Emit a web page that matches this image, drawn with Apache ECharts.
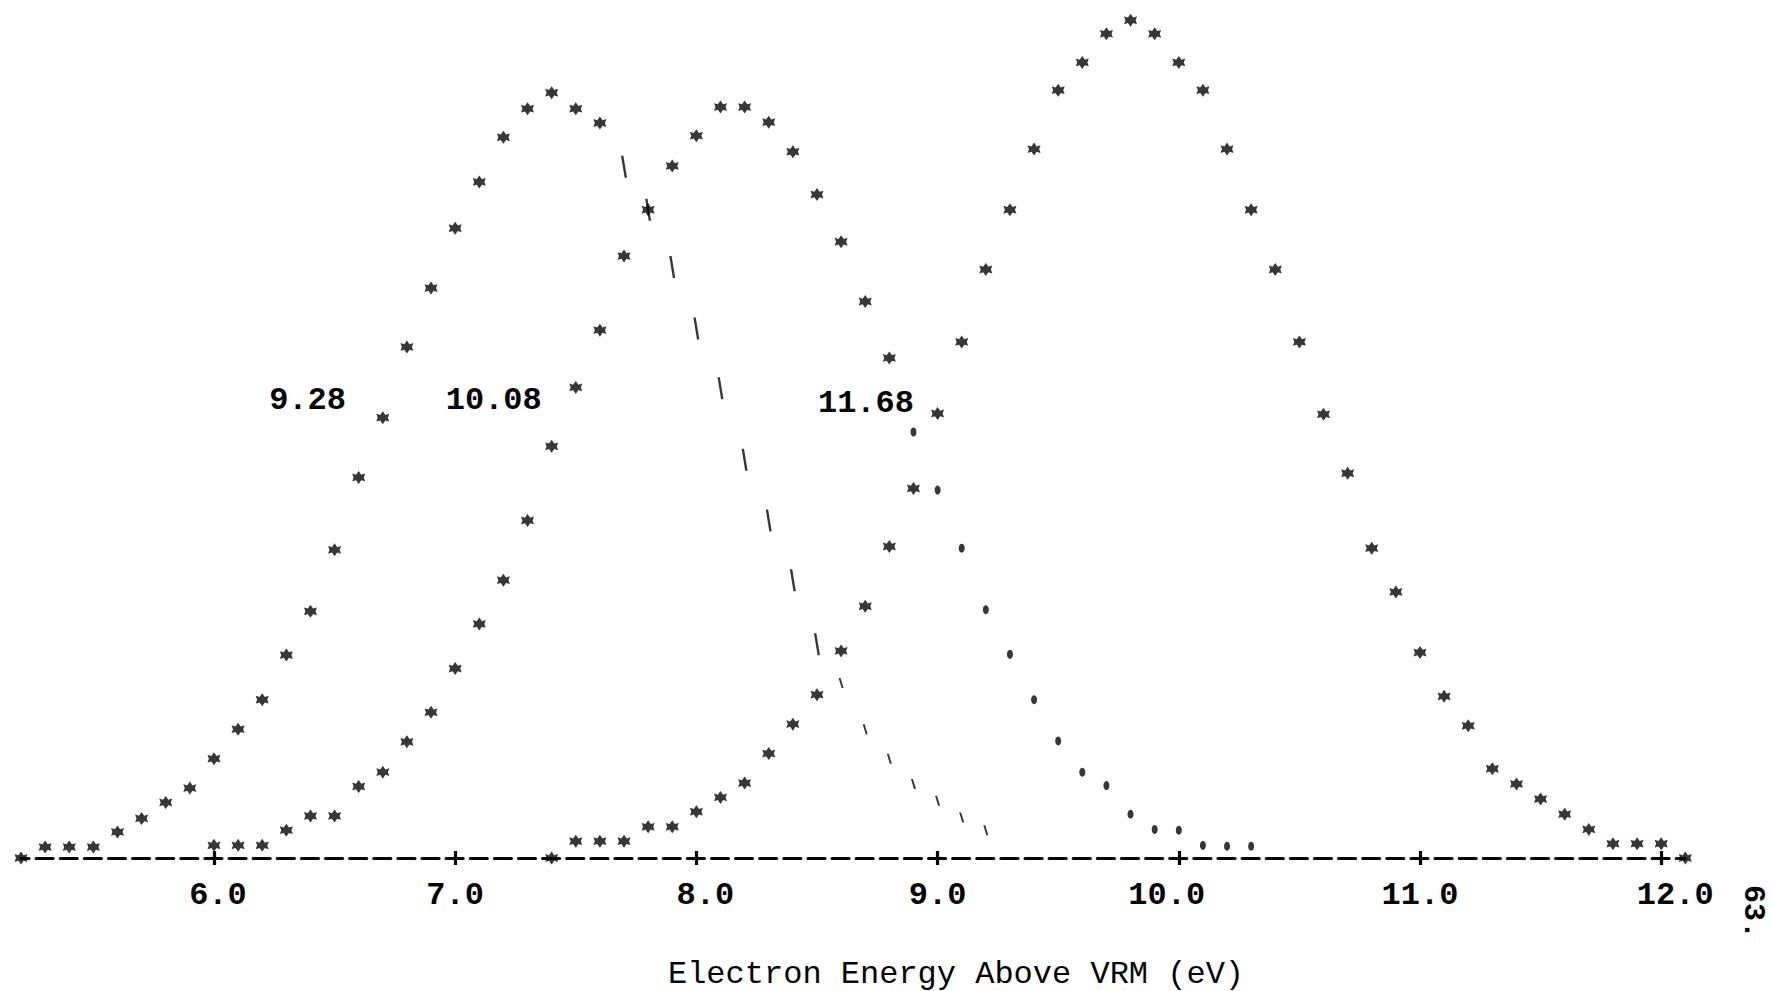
<!DOCTYPE html>
<html>
<head>
<meta charset="utf-8">
<script src="https://cdn.jsdelivr.net/npm/echarts@6/dist/echarts.min.js"></script>
<style>
  html, body { margin: 0; padding: 0; background: #ffffff; }
  #chart { width: 1772px; height: 991px; }
</style>
</head>
<body>
<div id="chart"></div>
<script>
// Energy grid of the printed plot, one column per 0.1 eV
const energy = [
  5.2, 5.3, 5.4, 5.5, 5.6, 5.7, 5.8, 5.9,
  6.0, 6.1, 6.2, 6.3, 6.4, 6.5, 6.6, 6.7, 6.8, 6.9,
  7.0, 7.1, 7.2, 7.3, 7.4, 7.5, 7.6, 7.7, 7.8, 7.9,
  8.0, 8.1, 8.2, 8.3, 8.4, 8.5, 8.6, 8.7, 8.8, 8.9,
  9.0, 9.1, 9.2, 9.3, 9.4, 9.5, 9.6, 9.7, 9.8, 9.9,
  10.0, 10.1, 10.2, 10.3, 10.4, 10.5, 10.6, 10.7, 10.8, 10.9,
  11.0, 11.1, 11.2, 11.3, 11.4, 11.5, 11.6, 11.7, 11.8, 11.9,
  12.0, 12.1
];

// Relative electron distribution for photon energy 9.28 eV
const curve928 = [
  0, 1.3, 1.3, 1.3, 3.1, 4.7, 6.6, 8.3,
  11.8, 15.3, 18.8, 24.1, 29.3, 36.6, 45.2, 52.3, 60.7, 67.7,
  74.8, 80.3, 85.6, 89.0, 90.9, 89.0, 87.3, 82.1, 77.0, 70.2,
  62.9, 55.8, 47.3, 40.1, 33.0, 25.4, 20.8, 15.3, 11.8, 8.8,
  6.8, 4.8, 3.3, null, null, null, null, null, null, null,
  null, null, null, null, null, null, null, null, null, null,
  null, null, null, null, null, null, null, null, null, null,
  null, null
];

// Relative electron distribution for photon energy 10.08 eV
const curve1008 = [
  null, null, null, null, null, null, null, null,
  1.5, 1.5, 1.5, 3.3, 5.0, 5.0, 8.5, 10.2, 13.8, 17.3,
  22.5, 27.8, 33.0, 40.1, 48.9, 55.9, 62.7, 71.5, 77.0, 82.2,
  85.8, 89.2, 89.2, 87.4, 83.9, 78.8, 73.2, 66.1, 59.4, 50.6,
  43.7, 36.8, 29.5, 24.2, 18.8, 13.9, 10.2, 8.6, 5.2, 3.4,
  3.3, 1.5, 1.4, 1.4, null, null, null, null, null, null,
  null, null, null, null, null, null, null, null, null, null,
  null, null
];

// Relative electron distribution for photon energy 11.68 eV
const curve1168 = [
  null, null, null, null, null, null, null, null,
  null, null, null, null, null, null, null, null, null, null,
  null, null, null, null, 0, 2.0, 2.0, 2.0, 3.7, 3.7,
  5.5, 7.2, 8.9, 12.4, 15.9, 19.4, 24.6, 29.9, 37.0, 43.9,
  52.8, 61.3, 69.9, 77.0, 84.2, 91.2, 94.5, 97.9, 99.5, 97.9,
  94.5, 91.2, 84.2, 77.0, 69.9, 61.3, 52.7, 45.7, 36.8, 31.6,
  24.4, 19.2, 15.7, 10.6, 8.8, 7.0, 5.2, 3.4, 1.7, 1.7,
  1.7, 0
];

const curveNames = ['9.28', '10.08', '11.68'];
const tickValues = [6, 7, 8, 9, 10, 11, 12];
const axisTitle = 'Electron Energy Above VRM (eV)';
const pageNumber = '63.';

// ---- drawing setup ----
const INK = '#050505';
const FONT = '"Liberation Mono", "DejaVu Sans Mono", monospace';

// printer glyph shapes: a heavy asterisk blob and a backslash stroke
const ASTERISK = 'path://M10 0 L13.8 5.8 L19.5 4 L17.4 10 L19.5 16 L13.8 14.2 L10 20 L6.2 14.2 L0.5 16 L2.6 10 L0.5 4 L6.2 5.8 Z';
const BACKSLASH = 'path://M0 0 L4 0 L10 20 L6 20 Z';

// where each curve's printed character changes on the falling side
const fallStart928 = 7.65;   // backslashes from here on
const smallSlash928 = 8.55;  // fainter marks from here on
const dotStart1008 = 8.85;   // periods from here on

// horizontal nudges of tick labels (printer column alignment)
const labelNudge = { 6: 4, 8: 9, 10: -12, 12: 14 };

function pairs(values) {
  const out = [];
  energy.forEach((e, i) => {
    if (values[i] !== null && values[i] !== undefined) out.push([e, values[i]]);
  });
  return out;
}

const rich = {};
tickValues.forEach(v => {
  const d = labelNudge[v] || 0;
  rich['t' + v] = {
    fontFamily: FONT, fontSize: 32, color: INK, fontWeight: 'bold',
    padding: d >= 0 ? [0, 0, 0, 2 * d] : [0, -2 * d, 0, 0]
  };
});

const chart = echarts.init(document.getElementById('chart'), null, { renderer: 'svg' });

const option = {
  backgroundColor: '#ffffff',
  animation: false,
  grid: { left: 21, right: 86.7, top: 16.1, bottom: 133, containLabel: false },
  xAxis: [
    {
      type: 'value', min: 5.2, max: 12.1, position: 'bottom',
      axisLine: { show: true, onZero: false,
        lineStyle: { color: INK, width: 3.2, type: [17, 7.12], dashOffset: 8.5 } },
      axisTick: { show: true, customValues: tickValues, length: 7, inside: false,
        lineStyle: { color: INK, width: 3.2 } },
      axisLabel: {
        show: true, customValues: tickValues, margin: 21,
        formatter: v => '{t' + Math.round(v) + '|' + v.toFixed(1) + '}',
        rich: rich
      },
      splitLine: { show: false }
    },
    {
      type: 'value', min: 5.2, max: 12.1, position: 'bottom', offset: 0,
      axisLine: { show: false },
      axisTick: { show: true, customValues: tickValues, length: 7, inside: true,
        lineStyle: { color: INK, width: 3.2 } },
      axisLabel: { show: false },
      splitLine: { show: false }
    }
  ],
  yAxis: { type: 'value', min: 0, max: 100, show: false },
  series: [
    {
      name: curveNames[0], type: 'scatter', xAxisIndex: 0,
      data: pairs(curve928),
      symbol: v => (v[0] > fallStart928 ? BACKSLASH : ASTERISK),
      symbolSize: v => (v[0] > smallSlash928 ? [5, 10] : (v[0] > fallStart928 ? [6, 22] : [13, 13])),
      itemStyle: { color: INK }, silent: true, z: 3
    },
    {
      name: curveNames[1], type: 'scatter', xAxisIndex: 0,
      data: pairs(curve1008),
      symbol: v => (v[0] > dotStart1008 ? 'circle' : ASTERISK),
      symbolSize: v => (v[0] > dotStart1008 ? [6, 9] : [13, 13]),
      itemStyle: { color: INK }, silent: true, z: 4
    },
    {
      name: curveNames[2], type: 'scatter', xAxisIndex: 0,
      data: pairs(curve1168),
      symbol: ASTERISK, symbolSize: [13, 13],
      itemStyle: { color: INK }, silent: true, z: 5
    }
  ]
};
chart.setOption(option);

// curve labels, anchored in data coordinates
const labelAnchors = [[6.388, 54.3], [7.160, 54.3], [8.703, 54.0]];
const graphics = curveNames.map((name, i) => {
  const p = chart.convertToPixel({ gridIndex: 0 }, labelAnchors[i]);
  return {
    type: 'text', x: p[0], y: p[1], silent: true,
    style: { text: name, fontFamily: FONT, fontSize: 32, fontWeight: 'bold', fill: INK,
      textAlign: 'center', textVerticalAlign: 'middle' }
  };
});
graphics.push({
  type: 'text', x: 956, y: 974, silent: true,
  style: { text: axisTitle, fontFamily: FONT, fontSize: 32, fill: INK,
    textAlign: 'center', textVerticalAlign: 'middle' }
});
graphics.push({
  type: 'text', x: 1753, y: 912, rotation: -Math.PI / 2, silent: true,
  style: { text: pageNumber, fontFamily: FONT, fontSize: 30, fontWeight: 'bold', fill: INK,
    textAlign: 'center', textVerticalAlign: 'middle' }
});
chart.setOption({ graphic: graphics });
</script>
</body>
</html>
